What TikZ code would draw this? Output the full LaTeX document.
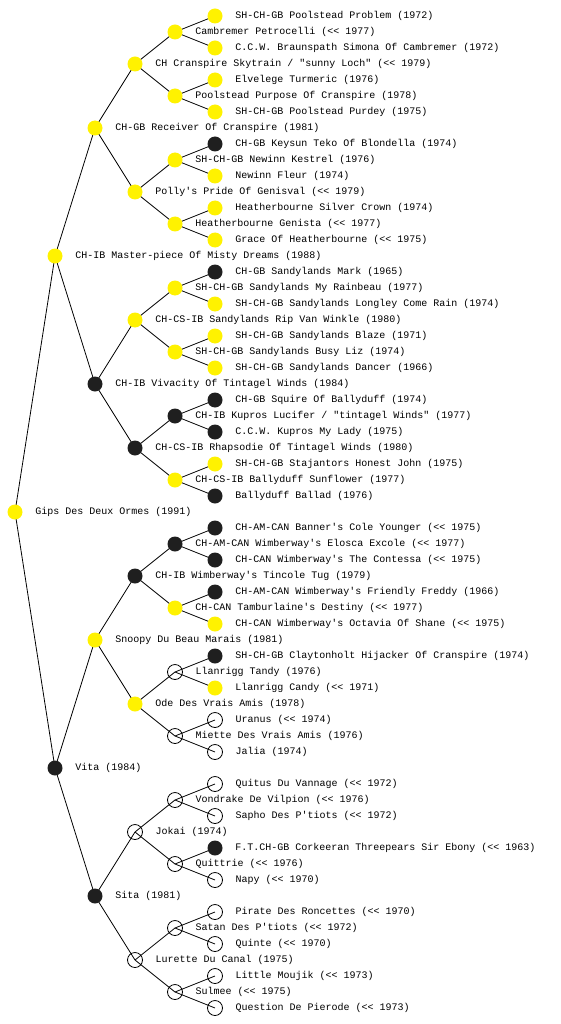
\documentclass[tikz,border=0pt]{standalone}
\usepackage{fontspec}
\setmonofont{Liberation Mono}
\usepackage{tikz}
\usetikzlibrary{backgrounds}

\begin{document}
\begin{tikzpicture}[x=1pt,y=-1pt,
  dog/.style={circle,minimum size=15pt,inner sep=0pt},
  yel/.style={dog,fill=yellow},
  blk/.style={dog,fill=black!88},
  wht/.style={dog,draw=black,line width=0.8pt},
  dogtext/.style={font=\ttfamily\fontsize{10}{12}\selectfont,inner sep=0pt},
  every label/.style={dogtext},
  label distance=12.5pt]
\useasboundingbox (0,0) rectangle (560,1024);
% Columns at x = 15, 55, 95, 135, 175, 215 (one per generation)
% Root
\node[yel,label=right:{Gips Des Deux Ormes (1991)}] (r) at (15,512) {};
% Generation 1
\node[yel,label=right:{CH-IB Master-piece Of Misty Dreams (1988)}] (rs) at (55,256) {};
\node[blk,label=right:{Vita (1984)}] (rd) at (55,768) {};
% Generation 2
\node[yel,label=right:{CH-GB Receiver Of Cranspire (1981)}] (rss) at (95,128) {};
\node[blk,label=right:{CH-IB Vivacity Of Tintagel Winds (1984)}] (rsd) at (95,384) {};
\node[yel,label=right:{Snoopy Du Beau Marais (1981)}] (rds) at (95,640) {};
\node[blk,label=right:{Sita (1981)}] (rdd) at (95,896) {};
% Generation 3
\node[yel,label=right:{CH Cranspire Skytrain / "sunny Loch" (<< 1979)}] (rsss) at (135,64) {};
\node[yel,label=right:{Polly's Pride Of Genisval (<< 1979)}] (rssd) at (135,192) {};
\node[yel,label=right:{CH-CS-IB Sandylands Rip Van Winkle (1980)}] (rsds) at (135,320) {};
\node[blk,label=right:{CH-CS-IB Rhapsodie Of Tintagel Winds (1980)}] (rsdd) at (135,448) {};
\node[blk,label=right:{CH-IB Wimberway's Tincole Tug (1979)}] (rdss) at (135,576) {};
\node[yel,label=right:{Ode Des Vrais Amis (1978)}] (rdsd) at (135,704) {};
\node[wht,label=right:{Jokai (1974)}] (rdds) at (135,832) {};
\node[wht,label=right:{Lurette Du Canal (1975)}] (rddd) at (135,960) {};
% Generation 4
\node[yel,label=right:{Cambremer Petrocelli (<< 1977)}] (rssss) at (175,32) {};
\node[yel,label=right:{Poolstead Purpose Of Cranspire (1978)}] (rsssd) at (175,96) {};
\node[yel,label=right:{SH-CH-GB Newinn Kestrel (1976)}] (rssds) at (175,160) {};
\node[yel,label=right:{Heatherbourne Genista (<< 1977)}] (rssdd) at (175,224) {};
\node[yel,label=right:{SH-CH-GB Sandylands My Rainbeau (1977)}] (rsdss) at (175,288) {};
\node[yel,label=right:{SH-CH-GB Sandylands Busy Liz (1974)}] (rsdsd) at (175,352) {};
\node[blk,label=right:{CH-IB Kupros Lucifer / "tintagel Winds" (1977)}] (rsdds) at (175,416) {};
\node[yel,label=right:{CH-CS-IB Ballyduff Sunflower (1977)}] (rsddd) at (175,480) {};
\node[blk,label=right:{CH-AM-CAN Wimberway's Elosca Excole (<< 1977)}] (rdsss) at (175,544) {};
\node[yel,label=right:{CH-CAN Tamburlaine's Destiny (<< 1977)}] (rdssd) at (175,608) {};
\node[wht,label=right:{Llanrigg Tandy (1976)}] (rdsds) at (175,672) {};
\node[wht,label=right:{Miette Des Vrais Amis (1976)}] (rdsdd) at (175,736) {};
\node[wht,label=right:{Vondrake De Vilpion (<< 1976)}] (rddss) at (175,800) {};
\node[wht,label=right:{Quittrie (<< 1976)}] (rddsd) at (175,864) {};
\node[wht,label=right:{Satan Des P'tiots (<< 1972)}] (rddds) at (175,928) {};
\node[wht,label=right:{Sulmee (<< 1975)}] (rdddd) at (175,992) {};
% Generation 5
\node[yel,label=right:{SH-CH-GB Poolstead Problem (1972)}] (rsssss) at (215,16) {};
\node[yel,label=right:{C.C.W. Braunspath Simona Of Cambremer (1972)}] (rssssd) at (215,48) {};
\node[yel,label=right:{Elvelege Turmeric (1976)}] (rsssds) at (215,80) {};
\node[yel,label=right:{SH-CH-GB Poolstead Purdey (1975)}] (rsssdd) at (215,112) {};
\node[blk,label=right:{CH-GB Keysun Teko Of Blondella (1974)}] (rssdss) at (215,144) {};
\node[yel,label=right:{Newinn Fleur (1974)}] (rssdsd) at (215,176) {};
\node[yel,label=right:{Heatherbourne Silver Crown (1974)}] (rssdds) at (215,208) {};
\node[yel,label=right:{Grace Of Heatherbourne (<< 1975)}] (rssddd) at (215,240) {};
\node[blk,label=right:{CH-GB Sandylands Mark (1965)}] (rsdsss) at (215,272) {};
\node[yel,label=right:{SH-CH-GB Sandylands Longley Come Rain (1974)}] (rsdssd) at (215,304) {};
\node[yel,label=right:{SH-CH-GB Sandylands Blaze (1971)}] (rsdsds) at (215,336) {};
\node[yel,label=right:{SH-CH-GB Sandylands Dancer (1966)}] (rsdsdd) at (215,368) {};
\node[blk,label=right:{CH-GB Squire Of Ballyduff (1974)}] (rsddss) at (215,400) {};
\node[blk,label=right:{C.C.W. Kupros My Lady (1975)}] (rsddsd) at (215,432) {};
\node[yel,label=right:{SH-CH-GB Stajantors Honest John (1975)}] (rsddds) at (215,464) {};
\node[blk,label=right:{Ballyduff Ballad (1976)}] (rsdddd) at (215,496) {};
\node[blk,label=right:{CH-AM-CAN Banner's Cole Younger (<< 1975)}] (rdssss) at (215,528) {};
\node[blk,label=right:{CH-CAN Wimberway's The Contessa (<< 1975)}] (rdsssd) at (215,560) {};
\node[blk,label=right:{CH-AM-CAN Wimberway's Friendly Freddy (1966)}] (rdssds) at (215,592) {};
\node[yel,label=right:{CH-CAN Wimberway's Octavia Of Shane (<< 1975)}] (rdssdd) at (215,624) {};
\node[blk,label=right:{SH-CH-GB Claytonholt Hijacker Of Cranspire (1974)}] (rdsdss) at (215,656) {};
\node[yel,label=right:{Llanrigg Candy (<< 1971)}] (rdsdsd) at (215,688) {};
\node[wht,label=right:{Uranus (<< 1974)}] (rdsdds) at (215,720) {};
\node[wht,label=right:{Jalia (1974)}] (rdsddd) at (215,752) {};
\node[wht,label=right:{Quitus Du Vannage (<< 1972)}] (rddsss) at (215,784) {};
\node[wht,label=right:{Sapho Des P'tiots (<< 1972)}] (rddssd) at (215,816) {};
\node[blk,label=right:{F.T.CH-GB Corkeeran Threepears Sir Ebony (<< 1963)}] (rddsds) at (215,848) {};
\node[wht,label=right:{Napy (<< 1970)}] (rddsdd) at (215,880) {};
\node[wht,label=right:{Pirate Des Roncettes (<< 1970)}] (rdddss) at (215,912) {};
\node[wht,label=right:{Quinte (<< 1970)}] (rdddsd) at (215,944) {};
\node[wht,label=right:{Little Moujik (<< 1973)}] (rdddds) at (215,976) {};
\node[wht,label=right:{Question De Pierode (<< 1973)}] (rddddd) at (215,1008) {};
% Parent links, centre to centre, behind the circles
\begin{scope}[on background layer]
\foreach \p in {r,rs,rd,rss,rsd,rds,rdd,rsss,rssd,rsds,rsdd,rdss,rdsd,rdds,rddd,
  rssss,rsssd,rssds,rssdd,rsdss,rsdsd,rsdds,rsddd,rdsss,rdssd,rdsds,rdsdd,rddss,rddsd,rddds,rdddd}
  \draw[line width=0.8pt] (\p.center) -- (\p s.center) (\p.center) -- (\p d.center);
\end{scope}
\end{tikzpicture}
\end{document}
